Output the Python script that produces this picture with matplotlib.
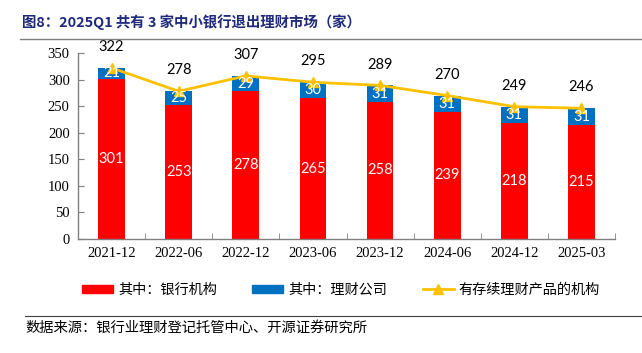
import matplotlib.pyplot as plt
import matplotlib.lines as mlines
import matplotlib.patches as mpatches
import numpy as np

CJK = ["Noto Sans CJK SC", "DejaVu Sans"]

periods = ["2021-12", "2022-06", "2022-12", "2023-06", "2023-12",
           "2024-06", "2024-12", "2025-03"]
banks = [301, 253, 278, 265, 258, 239, 218, 215]
wm_cos = [21, 25, 29, 30, 31, 31, 31, 31]
totals = [322, 278, 307, 295, 289, 270, 249, 246]

RED = "#ff0000"
BLUE = "#0070c0"
GOLD = "#ffc000"
NAVY = "#1f2a7a"
AXIS = "#808080"

fig = plt.figure(figsize=(6.42, 3.53), dpi=100)
ax = fig.add_axes([78 / 642, 1 - 239 / 353, 537 / 642, 186 / 353])

x = np.arange(len(periods))
ax.bar(x, banks, width=0.4, color=RED, zorder=2)
ax.bar(x, wm_cos, width=0.4, bottom=banks, color=BLUE, zorder=2)
ax.plot(x, totals, color=GOLD, lw=2, marker="^", ms=7.5, zorder=3)

for xi, b, w, t in zip(x, banks, wm_cos, totals):
    ax.text(xi, b / 2, str(b), ha="center", va="center", color="white",
            fontsize=10.5, family="Lato", zorder=4)
    ax.text(xi, b + w / 2, str(w), ha="center", va="center", color="white",
            fontsize=10.5, family="Lato", zorder=4)
    ax.annotate(str(t), (xi, t), xytext=(0, 15), textcoords="offset points",
                ha="center", va="center", fontsize=10.5, family="Lato",
                color="black")

ax.set_xlim(-0.5, len(periods) - 0.5)
ax.set_ylim(0, 350)
ax.set_yticks(range(0, 351, 50))
ax.set_xticks(x)
ax.set_xticklabels(periods)
ax.set_xticks(np.arange(-0.5, len(periods)), minor=True)
ax.tick_params(axis="x", which="major", length=0, pad=6)
ax.tick_params(axis="x", which="minor", direction="in", length=4, color=AXIS)
ax.tick_params(axis="y", direction="in", length=4, color=AXIS, pad=6)
for lab in ax.get_xticklabels() + ax.get_yticklabels():
    lab.set_family("Liberation Serif")
    lab.set_fontsize(10.5)
for s in ["top", "right"]:
    ax.spines[s].set_visible(False)
for s in ["left", "bottom"]:
    ax.spines[s].set_color(AXIS)
    ax.spines[s].set_linewidth(1)

fig.text(22 / 642, 1 - 22 / 353, "图8：2025Q1 共有 3 家中小银行退出理财市场（家）",
         ha="left", va="center", fontsize=10.4, fontweight="bold", color=NAVY,
         family=CJK)
fig.add_artist(mlines.Line2D([20 / 642, 1], [1 - 39 / 353] * 2, color="#7f7f7f",
                             lw=1, transform=fig.transFigure))
fig.add_artist(mlines.Line2D([25 / 642, 1], [1 - 316 / 353] * 2, color="#404040",
                             lw=0.8, transform=fig.transFigure))
fig.text(25 / 642, 1 - 328 / 353, "数据来源：银行业理财登记托管中心、开源证券研究所",
         ha="left", va="center", fontsize=10.3, color="black", family=CJK)

handles = [
    mpatches.Patch(color=RED, label="其中：银行机构"),
    mpatches.Patch(color=BLUE, label="其中：理财公司"),
    mlines.Line2D([], [], color=GOLD, lw=2, marker="^", ms=7.5,
                  label="有存续理财产品的机构"),
]
fig.legend(handles=handles, loc="center", bbox_to_anchor=(341 / 642, 1 - 290 / 353),
           ncol=3, frameon=False, prop={"family": CJK, "size": 10.2},
           handlelength=2.2, handleheight=0.5, columnspacing=2.5,
           handletextpad=0.35)

fig.savefig("out.png", dpi=100)
